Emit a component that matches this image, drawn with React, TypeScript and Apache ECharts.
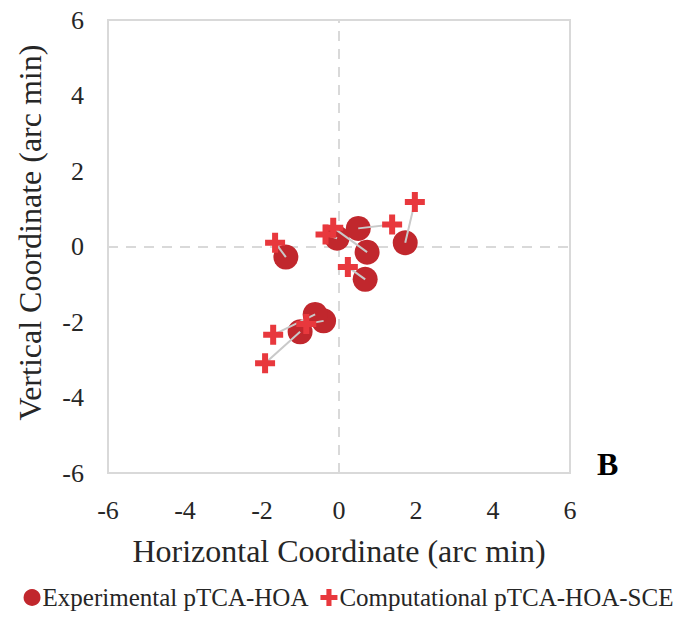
import React, { useEffect, useRef } from "react";
import * as echarts from "echarts";

const experimental: number[][] = [
  [-1.38, -0.28],
  [-0.05, 0.22],
  [0.5, 0.48],
  [0.73, -0.15],
  [0.68, -0.87],
  [1.72, 0.1],
  [-1.01, -2.26],
  [-0.4, -1.97],
  [-0.62, -1.8],
];

const computational: number[][] = [
  [-1.66, 0.1],
  [-0.35, 0.32],
  [1.38, 0.58],
  [-0.15, 0.5],
  [0.23, -0.54],
  [1.97, 1.18],
  [-1.92, -3.09],
  [-0.85, -2.05],
  [-1.71, -2.34],
];

const axisTicks = [-6, -4, -2, 0, 2, 4, 6];

const FONT = "Liberation Serif";
const PLUS = "path://M7,0H13V7H20V13H13V20H7V13H0V7H7Z";

export default function App() {
  const ref = useRef<HTMLDivElement>(null);
  useEffect(() => {
    if (!ref.current) return;
    const chart = echarts.init(ref.current, null, { renderer: "svg" });
    const pairLines = experimental.map((p, i) => ({
      type: "line",
      name: "pair" + i,
      data: [p, computational[i]],
      symbol: "none",
      silent: true,
      z: 3,
      lineStyle: { color: "#C9C9C9", width: 2 },
    }));
    chart.setOption({
      animation: false,
      backgroundColor: "#ffffff",
      textStyle: { fontFamily: FONT },
      grid: {
        left: 108,
        right: 127,
        top: 20,
        bottom: 147,
        show: true,
        borderColor: "#D9D9D9",
        borderWidth: 2,
      },
      xAxis: {
        type: "value",
        min: axisTicks[0],
        max: axisTicks[axisTicks.length - 1],
        interval: 2,
        name: "Horizontal Coordinate (arc min)",
        nameLocation: "middle",
        nameGap: 62,
        nameTextStyle: { fontFamily: FONT, fontSize: 32, color: "#262626" },
        axisLine: { show: false },
        axisTick: { show: false },
        splitLine: { show: false },
        axisLabel: { fontFamily: FONT, fontSize: 26, color: "#262626", margin: 24 },
      },
      yAxis: {
        type: "value",
        min: axisTicks[0],
        max: axisTicks[axisTicks.length - 1],
        interval: 2,
        name: "Vertical Coordinate (arc min)",
        nameLocation: "middle",
        nameGap: 62,
        nameTextStyle: { fontFamily: FONT, fontSize: 32, color: "#262626", padding: [0, 0, 0, 28] },
        axisLine: { show: false },
        axisTick: { show: false },
        splitLine: { show: false },
        axisLabel: { fontFamily: FONT, fontSize: 26, color: "#262626", margin: 24 },
      },
      legend: {
        bottom: 5,
        left: "center",
        data: [
          { name: "Experimental pTCA-HOA", icon: "circle" },
          { name: "Computational pTCA-HOA-SCE", icon: PLUS },
        ],
        itemWidth: 17,
        itemHeight: 17,
        itemGap: 12,
        textStyle: { fontFamily: FONT, fontSize: 25, color: "#262626", padding: [0, 0, 0, -3] },
      },
      graphic: [
        {
          type: "text",
          left: 597,
          top: 448,
          style: { text: "B", font: "bold 32px 'Liberation Serif', serif", fill: "#000" },
        },
      ],
      series: [
        {
          type: "scatter",
          name: "Experimental pTCA-HOA",
          data: experimental,
          symbol: "circle",
          symbolSize: 25,
          z: 2,
          itemStyle: { color: "#C1272D", opacity: 1 },
          markLine: {
            silent: true,
            symbol: "none",
            label: { show: false },
            lineStyle: { color: "#D9D9D9", type: [10, 8], width: 2 },
            data: [{ xAxis: 0 }, { yAxis: 0 }],
            z: 1,
          },
        },
        ...pairLines,
        {
          type: "scatter",
          name: "Computational pTCA-HOA-SCE",
          data: computational,
          symbol: PLUS,
          symbolSize: 20,
          z: 4,
          itemStyle: { color: "#E8383D", opacity: 1 },
        },
      ],
    });
    return () => chart.dispose();
  }, []);
  return <div ref={ref} style={{ width: 697, height: 620, margin: -8 }} />;
}
